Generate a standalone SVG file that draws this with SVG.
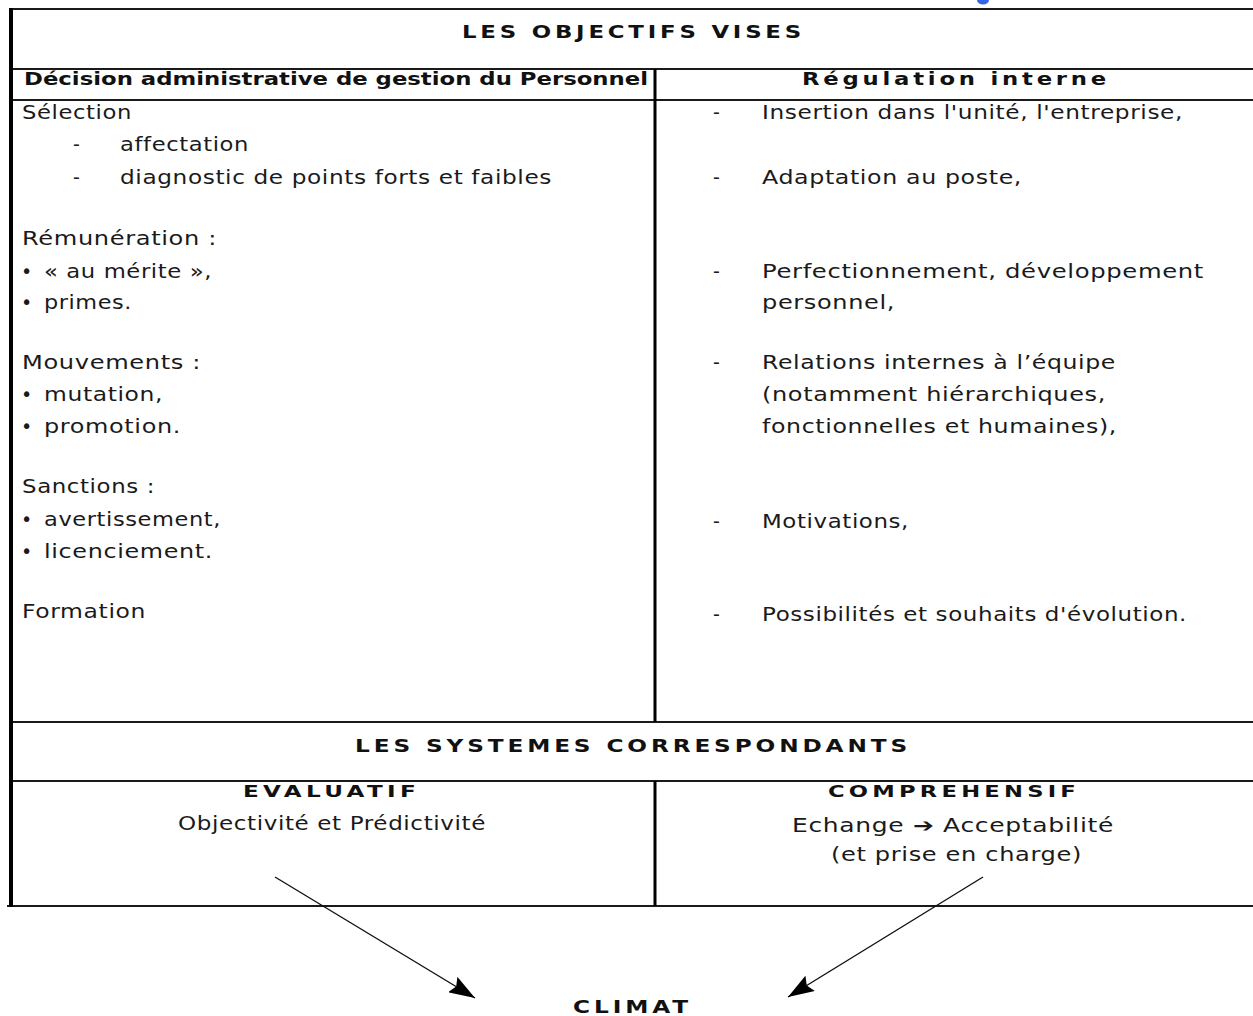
<svg xmlns="http://www.w3.org/2000/svg" width="1253" height="1016" viewBox="0 0 1253 1016">
  <style>
    .body { font-family: "DejaVu Sans", "Liberation Sans", sans-serif; font-size: 19px; letter-spacing: 0.5px; fill: #1a1a1a; }
    .head { font-family: "DejaVu Sans", "Liberation Sans", sans-serif; font-size: 18px; font-weight: bold; letter-spacing: 3px; fill: #111; }
    .col { font-family: "DejaVu Sans", "Liberation Sans", sans-serif; font-size: 18px; font-weight: bold; fill: #111; }
    .sub { font-family: "DejaVu Sans", "Liberation Sans", sans-serif; font-size: 16px; font-weight: bold; letter-spacing: 3px; fill: #111; }
    .rule { stroke: #1a1a1a; stroke-width: 2; fill: none; }
    .edge { stroke: #000; stroke-width: 4; fill: none; }
    .divider { stroke: #000; stroke-width: 3; fill: none; }
    .arrow { stroke: #111; stroke-width: 1.4; fill: none; marker-end: url(#head); }
  </style>
  <defs>
    <marker id="head" viewBox="0 0 26 18" refX="26" refY="9" markerWidth="26" markerHeight="18" markerUnits="userSpaceOnUse" orient="auto">
      <path d="M0,0 L26,9 L0,18 L4,9 z" fill="#000"/>
    </marker>
  </defs>

  <rect width="1253" height="1016" fill="#ffffff"/>

  <!-- small blue mark at the top edge -->
  <ellipse cx="983" cy="0" rx="6" ry="4.5" fill="#3366e0"/>

  <!-- table frame -->
  <g id="table">
    <line class="rule" x1="10" y1="9" x2="1253" y2="9"/>
    <line class="rule" x1="10" y1="69" x2="1253" y2="69"/>
    <line class="rule" x1="10" y1="100" x2="1253" y2="100"/>
    <line class="rule" x1="10" y1="722" x2="1253" y2="722"/>
    <line class="rule" x1="10" y1="781" x2="1253" y2="781"/>
    <line class="rule" x1="7" y1="906" x2="1253" y2="906"/>
    <line class="edge" x1="11" y1="8" x2="11" y2="907"/>
    <line class="divider" x1="655" y1="69" x2="655" y2="722"/>
    <line class="divider" x1="655" y1="781" x2="655" y2="906"/>
  </g>

  <g id="objectifs-title">
    <text class="head" x="462" y="38" textLength="343" lengthAdjust="spacingAndGlyphs">LES OBJECTIFS VISES</text>
  </g>

  <g id="decision-column">
    <text class="col" x="24" y="85" textLength="624" lengthAdjust="spacingAndGlyphs">Décision administrative de gestion du Personnel</text>
    <text class="body" x="22" y="119" textLength="110" lengthAdjust="spacingAndGlyphs">Sélection</text>
    <text class="body" x="73" y="151">-</text>
    <text class="body" x="120" y="151" textLength="129" lengthAdjust="spacingAndGlyphs">affectation</text>
    <text class="body" x="73" y="184">-</text>
    <text class="body" x="120" y="184" textLength="432" lengthAdjust="spacingAndGlyphs">diagnostic de points forts et faibles</text>
    <text class="body" x="22" y="245" textLength="195" lengthAdjust="spacingAndGlyphs">Rémunération :</text>
    <text class="body" x="21" y="278">•</text>
    <text class="body" x="44" y="278" textLength="168" lengthAdjust="spacingAndGlyphs">« au mérite »,</text>
    <text class="body" x="21" y="309">•</text>
    <text class="body" x="44" y="309" textLength="88" lengthAdjust="spacingAndGlyphs">primes.</text>
    <text class="body" x="22" y="369" textLength="179" lengthAdjust="spacingAndGlyphs">Mouvements :</text>
    <text class="body" x="21" y="401">•</text>
    <text class="body" x="44" y="401" textLength="119" lengthAdjust="spacingAndGlyphs">mutation,</text>
    <text class="body" x="21" y="433">•</text>
    <text class="body" x="44" y="433" textLength="137" lengthAdjust="spacingAndGlyphs">promotion.</text>
    <text class="body" x="22" y="493" textLength="133" lengthAdjust="spacingAndGlyphs">Sanctions :</text>
    <text class="body" x="21" y="526">•</text>
    <text class="body" x="44" y="526" textLength="177" lengthAdjust="spacingAndGlyphs">avertissement,</text>
    <text class="body" x="21" y="558">•</text>
    <text class="body" x="44" y="558" textLength="169" lengthAdjust="spacingAndGlyphs">licenciement.</text>
    <text class="body" x="22" y="618" textLength="124" lengthAdjust="spacingAndGlyphs">Formation</text>
  </g>

  <g id="regulation-column">
    <text class="head" x="802" y="85" textLength="308" lengthAdjust="spacingAndGlyphs">Régulation interne</text>
    <text class="body" x="713" y="119">-</text>
    <text class="body" x="762" y="119" textLength="421" lengthAdjust="spacingAndGlyphs">Insertion dans l'unité, l'entreprise,</text>
    <text class="body" x="713" y="184">-</text>
    <text class="body" x="762" y="184" textLength="260" lengthAdjust="spacingAndGlyphs">Adaptation au poste,</text>
    <text class="body" x="713" y="278">-</text>
    <text class="body" x="762" y="278" textLength="442" lengthAdjust="spacingAndGlyphs">Perfectionnement, développement</text>
    <text class="body" x="762" y="309" textLength="133" lengthAdjust="spacingAndGlyphs">personnel,</text>
    <text class="body" x="713" y="369">-</text>
    <text class="body" x="762" y="369" textLength="354" lengthAdjust="spacingAndGlyphs">Relations internes à l’équipe</text>
    <text class="body" x="762" y="401" textLength="344" lengthAdjust="spacingAndGlyphs">(notamment hiérarchiques,</text>
    <text class="body" x="762" y="433" textLength="355" lengthAdjust="spacingAndGlyphs">fonctionnelles et humaines),</text>
    <text class="body" x="713" y="528">-</text>
    <text class="body" x="762" y="528" textLength="147" lengthAdjust="spacingAndGlyphs">Motivations,</text>
    <text class="body" x="713" y="621">-</text>
    <text class="body" x="762" y="621" textLength="425" lengthAdjust="spacingAndGlyphs">Possibilités et souhaits d'évolution.</text>
  </g>

  <g id="systemes-title">
    <text class="head" x="355" y="752" textLength="556" lengthAdjust="spacingAndGlyphs">LES SYSTEMES CORRESPONDANTS</text>
  </g>

  <g id="evaluatif">
    <text class="sub" x="243" y="797" textLength="177" lengthAdjust="spacingAndGlyphs">EVALUATIF</text>
    <text class="body" x="178" y="830" textLength="308" lengthAdjust="spacingAndGlyphs">Objectivité et Prédictivité</text>
  </g>

  <g id="comprehensif">
    <text class="sub" x="828" y="797" textLength="252" lengthAdjust="spacingAndGlyphs">COMPREHENSIF</text>
    <text class="body" x="792" y="832" textLength="322" lengthAdjust="spacingAndGlyphs">Echange <tspan font-weight="bold">➔</tspan> Acceptabilité</text>
    <text class="body" x="831" y="861" textLength="251" lengthAdjust="spacingAndGlyphs">(et prise en charge)</text>
  </g>

  <g id="climat">
    <text class="head" x="573" y="1013" font-size="17" textLength="119" lengthAdjust="spacingAndGlyphs">CLIMAT</text>
  </g>

  <g id="connectors">
    <line class="arrow" x1="275" y1="877" x2="475" y2="998"/>
    <line class="arrow" x1="983" y1="877" x2="788" y2="997"/>
  </g>
</svg>
